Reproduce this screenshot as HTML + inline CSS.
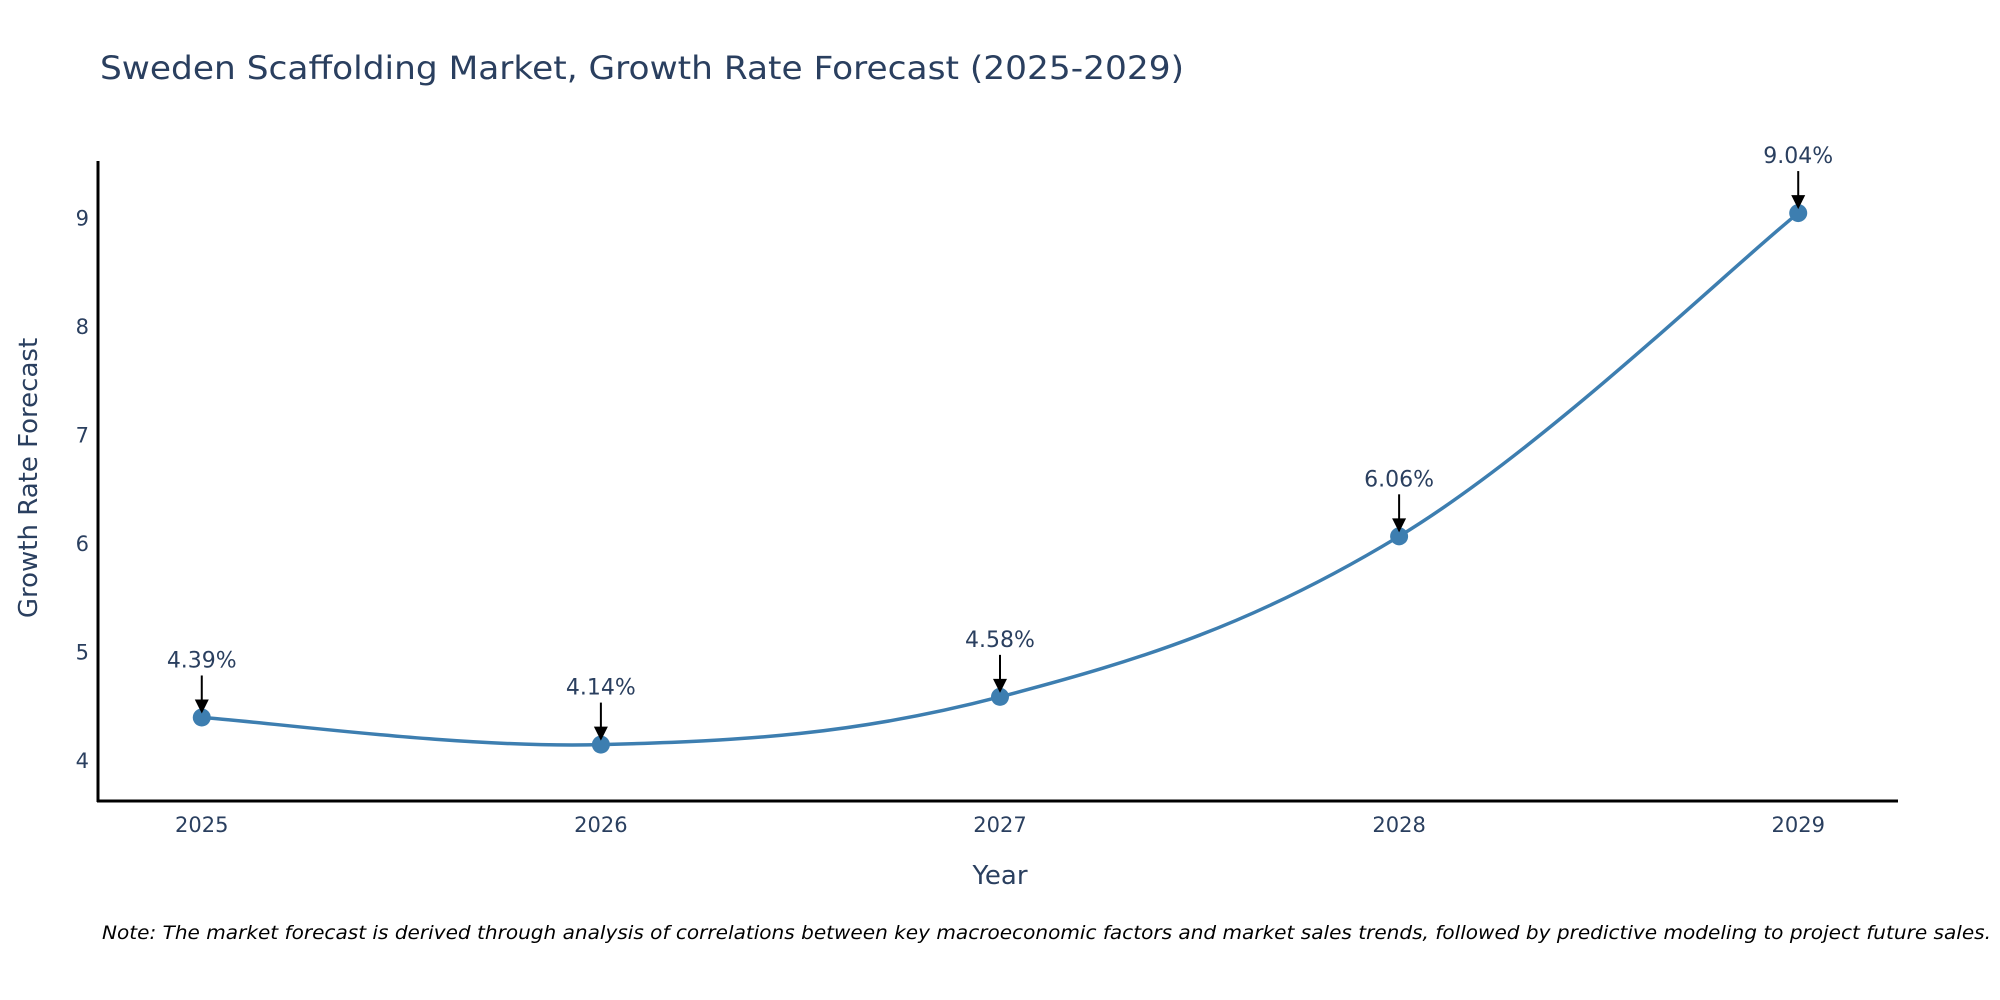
<!DOCTYPE html>
<html><head><meta charset="utf-8"><style>
body{margin:0;background:#fff;}
svg{display:block;font-family:"DejaVu Sans","Liberation Sans",sans-serif;}
</style></head><body>
<svg id="chart" width="2000" height="1000" viewBox="0 0 2000 1000">
<text x="100" y="79" font-size="32" fill="#2a3f5f" textLength="1084" lengthAdjust="spacingAndGlyphs">Sweden Scaffolding Market, Growth Rate Forecast (2025-2029)</text>
<g id="yticks"></g>
<g id="xticks"></g>
<line x1="98" y1="161" x2="98" y2="802" stroke="#000" stroke-width="3"/>
<line x1="97" y1="801" x2="1898" y2="801" stroke="#000" stroke-width="3"/>
<text transform="translate(37,478) rotate(-90)" text-anchor="middle" font-size="26" fill="#2a3f5f">Growth Rate Forecast</text>
<text x="1000" y="884" text-anchor="middle" font-size="26" fill="#2a3f5f">Year</text>
<g id="series"></g>
<g id="annots"></g>
<text x="102" y="939" font-size="19" font-style="italic" fill="#000" textLength="1889" lengthAdjust="spacingAndGlyphs">Note: The market forecast is derived through analysis of correlations between key macroeconomic factors and market sales trends, followed by predictive modeling to project future sales.</text>
</svg>
<script>
const years = [2025, 2026, 2027, 2028, 2029];
const values = [4.39, 4.14, 4.58, 6.06, 9.04];
const labels = ["4.39%", "4.14%", "4.58%", "6.06%", "9.04%"];
const yTicks = [4, 5, 6, 7, 8, 9];

const NS = "http://www.w3.org/2000/svg";
const X0 = 98, X1 = 1898, Y0 = 801, Y1 = 161;
const xMin = 2024.74, xMax = 2029.25, yMin = 3.62, yMax = 9.52;
const xS = v => X0 + (v - xMin) / (xMax - xMin) * (X1 - X0);
const yS = v => Y0 - (v - yMin) / (yMax - yMin) * (Y0 - Y1);
function mk(tag, attrs, parent) {
  const e = document.createElementNS(NS, tag);
  for (const k in attrs) e.setAttribute(k, attrs[k]);
  parent.appendChild(e);
  return e;
}
const yt = document.getElementById('yticks');
yTicks.forEach(t => {
  const e = mk('text', {x: 89, y: yS(t) + 8, 'text-anchor': 'end', 'font-size': 21, fill: '#2a3f5f'}, yt);
  
  
  e.textContent = t;
});
const xt = document.getElementById('xticks');
years.forEach(y => {
  const e = mk('text', {x: xS(y), y: 832, 'text-anchor': 'middle', 'font-size': 21, fill: '#2a3f5f'}, xt);
  
  
  e.textContent = y;
});
const pts = years.map((y, i) => [xS(y), yS(values[i])]);
let d = `M${pts[0][0]},${pts[0][1]}`;
const tension = 0.18;
for (let i = 0; i < pts.length - 1; i++) {
  const p0 = pts[Math.max(0, i - 1)], p1 = pts[i], p2 = pts[i + 1], p3 = pts[Math.min(pts.length - 1, i + 2)];
  const c1 = [p1[0] + (p2[0] - p0[0]) * tension, p1[1] + (p2[1] - p0[1]) * tension];
  const c2 = [p2[0] - (p3[0] - p1[0]) * tension, p2[1] - (p3[1] - p1[1]) * tension];
  d += ` C${c1[0]},${c1[1]} ${c2[0]},${c2[1]} ${p2[0]},${p2[1]}`;
}
const s = document.getElementById('series');
const line = mk('path', {d: d, fill: 'none', stroke: '#3d7eb0', 'stroke-width': 3.5}, s);


const an = document.getElementById('annots');
pts.forEach((p, i) => {
  const c = mk('circle', {cx: p[0], cy: p[1], r: 9, fill: '#3d7eb0'}, s);
  
  
  const l = mk('line', {x1: p[0], y1: p[1] - 42, x2: p[0], y2: p[1] - 14, stroke: '#000', 'stroke-width': 2}, an);
  
  
  const h = mk('polygon', {points: `${p[0]-7},${p[1]-18} ${p[0]+7},${p[1]-18} ${p[0]},${p[1]-4}`, fill: '#000'}, an);
  
  
  const t = mk('text', {x: p[0], y: p[1] - 50, 'text-anchor': 'middle', 'font-size': 22, fill: '#2a3f5f'}, an);
  
  
  t.textContent = labels[i];
});
</script>
</body></html>
